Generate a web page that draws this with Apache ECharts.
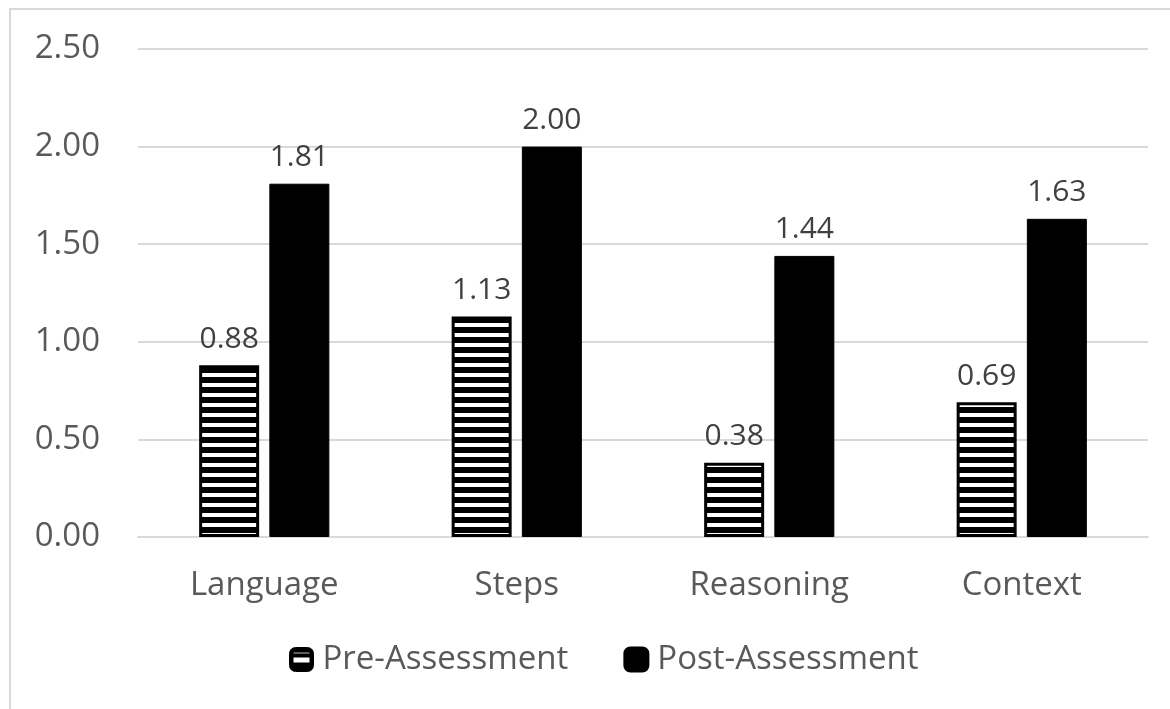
<!DOCTYPE html>
<html>
<head>
<meta charset="utf-8">
<script src="https://cdn.jsdelivr.net/npm/echarts@6/dist/echarts.min.js"></script>
<style>
  html, body { margin: 0; padding: 0; background: #fff; }
  #chart { width: 1170px; height: 709px; }
</style>
</head>
<body>
<div id="chart"></div>
<script>
const categories = ['Language', 'Steps', 'Reasoning', 'Context'];
const preAssessment = [0.88, 1.13, 0.38, 0.69];
const postAssessment = [1.81, 2.00, 1.44, 1.63];
const seriesNames = ['Pre-Assessment', 'Post-Assessment'];

// Horizontal stripe fill: white lines on black
function stripeCanvas() {
  const c = document.createElement('canvas');
  c.width = 10; c.height = 10;
  const g = c.getContext('2d');
  g.fillStyle = '#000'; g.fillRect(0, 0, 10, 10);
  g.fillStyle = '#fff'; g.fillRect(0, 3, 10, 4);
  return c;
}
const stripes = { image: stripeCanvas(), repeat: 'repeat' };

// Legend swatch: black square with a single white bar across the middle
function swatchCanvas() {
  const c = document.createElement('canvas');
  c.width = 24; c.height = 24;
  const g = c.getContext('2d');
  g.fillStyle = '#000'; g.fillRect(0, 0, 24, 24);
  g.fillStyle = '#fff'; g.fillRect(4, 10, 16, 5);
  g.fillStyle = '#bbb'; g.fillRect(4, 5, 16, 1);
  return c;
}
const swatch = { image: swatchCanvas(), repeat: 'no-repeat' };

const font = '"Open Sans", "Noto Sans", sans-serif';
const textColor = '#595959';

const chart = echarts.init(document.getElementById('chart'));
chart.setOption({
  animation: false,
  backgroundColor: '#fff',
  graphic: [{
    type: 'rect',
    shape: { x: 10, y: 9, width: 1200, height: 720 },
    style: { fill: 'none', stroke: '#d9d9d9', lineWidth: 2 },
    silent: true
  }],
  grid: { left: 138, right: 22, top: 49, bottom: 172, containLabel: false },
  legend: {
    bottom: 28,
    left: 284,
    itemWidth: 24,
    itemHeight: 24,
    itemGap: 55,
    textStyle: { fontFamily: font, fontSize: 33, color: textColor, padding: [0, 0, 0, 4] },
    data: [
      { name: seriesNames[0], icon: 'roundRect', itemStyle: { color: swatch, borderColor: '#000', borderWidth: 1 } },
      { name: seriesNames[1], icon: 'roundRect' }
    ]
  },
  xAxis: {
    type: 'category',
    data: categories,
    axisLine: { show: true, lineStyle: { color: '#d9d9d9', width: 2 } },
    axisTick: { show: false },
    axisLabel: { fontFamily: font, fontSize: 33, color: textColor, margin: 32 }
  },
  yAxis: {
    type: 'value',
    min: 0,
    max: 2.5,
    interval: 0.5,
    axisLine: { show: false },
    axisTick: { show: false },
    splitLine: { lineStyle: { color: '#d9d9d9', width: 2 } },
    axisLabel: {
      fontFamily: font, fontSize: 33, color: textColor, margin: 38,
      formatter: v => v.toFixed(2)
    }
  },
  series: [
    {
      name: seriesNames[0],
      type: 'bar',
      data: preAssessment,
      barWidth: 60,
      barGap: '17%',
      itemStyle: { color: stripes, borderColor: '#000', borderWidth: 3 },
      label: {
        show: true, position: 'top', distance: 11,
        fontFamily: font, fontSize: 30, color: '#404040',
        formatter: p => p.value.toFixed(2)
      }
    },
    {
      name: seriesNames[1],
      type: 'bar',
      data: postAssessment,
      barWidth: 60,
      itemStyle: { color: '#000', borderColor: '#000', borderWidth: 1 },
      label: {
        show: true, position: 'top', distance: 11,
        fontFamily: font, fontSize: 30, color: '#404040',
        formatter: p => p.value.toFixed(2)
      }
    }
  ]
});
</script>
</body>
</html>
